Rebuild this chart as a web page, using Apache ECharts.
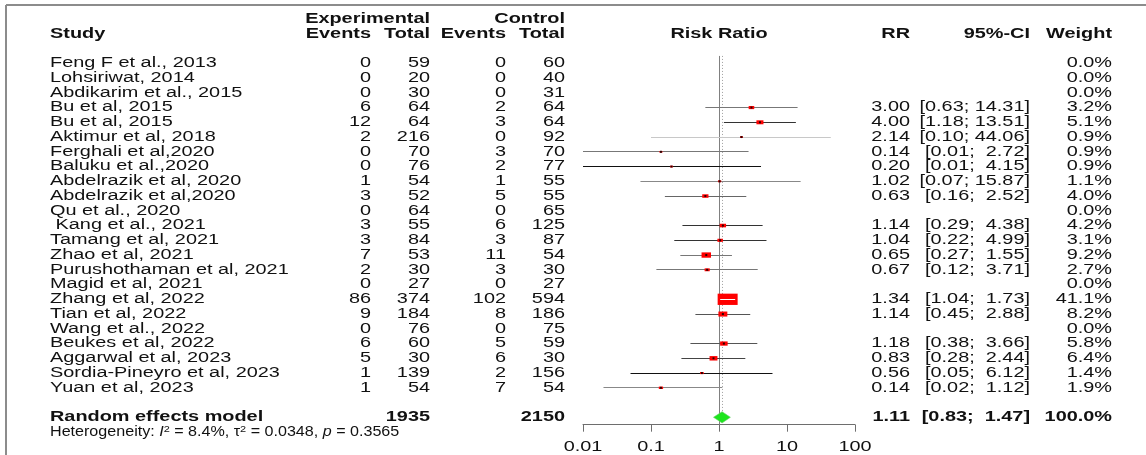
<!DOCTYPE html>
<html>
<head>
<meta charset="utf-8">
<script src="https://cdn.jsdelivr.net/npm/echarts@6/dist/echarts.min.js"></script>
<style>
  html, body { margin: 0; padding: 0; background: #fff; }
  #chart { width: 1146px; height: 455px; }
</style>
</head>
<body>
<div id="chart"></div>
<script>
// ---- Study data ----
const studies = [
  'Feng F et al., 2013', 'Lohsiriwat, 2014', 'Abdikarim et al., 2015', 'Bu et al, 2015',
  'Bu et al, 2015', 'Aktimur et al, 2018', 'Ferghali et al,2020', 'Baluku et al.,2020',
  'Abdelrazik et al, 2020', 'Abdelrazik et al,2020', 'Qu et al., 2020', ' Kang et al., 2021',
  'Tamang et al, 2021', 'Zhao et al, 2021', 'Purushothaman et al, 2021', 'Magid et al, 2021',
  'Zhang et al, 2022', 'Tian et al, 2022', 'Wang et al., 2022', 'Beukes et al, 2022',
  'Aggarwal et al, 2023', 'Sordia-Pineyro et al, 2023', 'Yuan et al, 2023'
];
const expEvents  = [0, 0, 0, 6, 12, 2, 0, 0, 1, 3, 0, 3, 3, 7, 2, 0, 86, 9, 0, 6, 5, 1, 1];
const expTotal   = [59, 20, 30, 64, 64, 216, 70, 76, 54, 52, 64, 55, 84, 53, 30, 27, 374, 184, 76, 60, 30, 139, 54];
const ctrlEvents = [0, 0, 0, 2, 3, 0, 3, 2, 1, 5, 0, 6, 3, 11, 3, 0, 102, 8, 0, 5, 6, 2, 7];
const ctrlTotal  = [60, 40, 31, 64, 64, 92, 70, 77, 55, 55, 65, 125, 87, 54, 30, 27, 594, 186, 75, 59, 30, 156, 54];
const riskRatio  = [null, null, null, 3.00, 4.00, 2.14, 0.14, 0.20, 1.02, 0.63, null, 1.14, 1.04, 0.65, 0.67, null, 1.34, 1.14, null, 1.18, 0.83, 0.56, 0.14];
const ciLower    = [null, null, null, 0.63, 1.18, 0.10, 0.01, 0.01, 0.07, 0.16, null, 0.29, 0.22, 0.27, 0.12, null, 1.04, 0.45, null, 0.38, 0.28, 0.05, 0.02];
const ciUpper    = [null, null, null, 14.31, 13.51, 44.06, 2.72, 4.15, 15.87, 2.52, null, 4.38, 4.99, 1.55, 3.71, null, 1.73, 2.88, null, 3.66, 2.44, 6.12, 1.12];
const weights    = [0.0, 0.0, 0.0, 3.2, 5.1, 0.9, 0.9, 0.9, 1.1, 4.0, 0.0, 4.2, 3.1, 9.2, 2.7, 0.0, 41.1, 8.2, 0.0, 5.8, 6.4, 1.4, 1.9];

// ---- Pooled estimate (random effects) ----
const pooledLabel = 'Random effects model';
const pooledTotals = [1935, 2150];
const pooledRR = 1.11;
const pooledCI = [0.83, 1.47];
const pooledWeight = 100.0;
const hetI2 = 8.4, hetTau2 = 0.0348, hetP = 0.3565;

// ---- Axis ----
const axisTicks = [0.01, 0.1, 1, 10, 100];
const axisTickLabels = ['0.01', '0.1', '1', '10', '100'];

// ---- Layout and styling ----
const FONT = '"Liberation Sans", Arial, Helvetica, sans-serif';
const FONT_SIZE = 14;
const HET_FONT_SIZE = 14;
const STRETCH = 1.42;            // horizontal text stretch of the table
const HET_STRETCH = 1.15;
const ROW = 14.75;               // row pitch in px
const FIRST_ROW_Y = 63.3;
const SUMMARY_ROW = 24;
const COL = { study: 50, expEv: 371, expTot: 430, ctlEv: 506, ctlTot: 565, rr: 910, ci: 1030, wt: 1112 };
const BOX_W = 20, BOX_H = 11.3;  // square size for the largest weight
const ciShade = ['#000', '#000', '#000', '#777', '#333', '#c8c8c8', '#777', '#111', '#888', '#666', '#000', '#333',
                 '#333', '#777', '#777', '#000', '#fff', '#555', '#000', '#555', '#444', '#111', '#888'];
const gridTop = FIRST_ROW_Y - 3.5 * ROW;
const gridHeight = 28 * ROW;

function cell(x, y, text, align, bold) {
  return {
    type: 'text', x: x, y: y, scaleX: STRETCH, silent: true,
    style: {
      text: text, align: align, verticalAlign: 'middle',
      fontSize: FONT_SIZE, fontFamily: FONT, fontWeight: bold ? 'bold' : 'normal', fill: '#111'
    }
  };
}
function fmtCI(lo, hi) {
  return '[' + lo.toFixed(2) + '; ' + hi.toFixed(2).padStart(5, ' ') + ']';
}
const crisp = v => Math.round(v) + 0.5;

// Table rows: study names, counts, estimates and weights
function renderStudyRow(params, api) {
  const i = params.dataIndex;
  const y = api.coord([1, api.value(1)])[1];
  const kids = [
    cell(COL.study, y, studies[i], 'left'),
    cell(COL.expEv, y, String(expEvents[i]), 'right'),
    cell(COL.expTot, y, String(expTotal[i]), 'right'),
    cell(COL.ctlEv, y, String(ctrlEvents[i]), 'right'),
    cell(COL.ctlTot, y, String(ctrlTotal[i]), 'right')
  ];
  if (riskRatio[i] != null) {
    kids.push(cell(COL.rr, y, riskRatio[i].toFixed(2), 'right'));
    kids.push(cell(COL.ci, y, fmtCI(ciLower[i], ciUpper[i]), 'right'));
  }
  kids.push(cell(COL.wt, y, weights[i].toFixed(1) + '%', 'right'));
  return { type: 'group', children: kids };
}

// Confidence interval, weighted square and centre point for each study
const maxWeight = Math.max.apply(null, weights);
function renderStudyCI(params, api) {
  const i = api.value(4);
  const c = api.coord([api.value(0), i]);
  const lo = api.coord([api.value(1), i]);
  const hi = api.coord([api.value(2), i]);
  const s = Math.sqrt(api.value(3) / maxWeight);
  const w = BOX_W * s, h = BOX_H * s;
  const yy = crisp(c[1] - 0.5);
  const inside = lo[0] >= c[0] - w / 2 && hi[0] <= c[0] + w / 2;
  const kids = [];
  if (!inside) {
    kids.push({ type: 'line', shape: { x1: lo[0], y1: yy, x2: hi[0], y2: yy },
      style: { stroke: ciShade[i], lineWidth: 1 } });
  }
  kids.push({ type: 'rect', shape: { x: c[0] - w / 2, y: c[1] - h / 2, width: w, height: h },
    style: { fill: '#ff0000' } });
  if (inside) {
    kids.push({ type: 'line', shape: { x1: lo[0], y1: yy, x2: hi[0], y2: yy },
      style: { stroke: '#ffffff', lineWidth: 1 } });
  } else {
    kids.push({ type: 'rect', shape: { x: c[0] - 1, y: c[1] - 1, width: 2, height: 2 },
      style: { fill: '#2a0000' } });
  }
  return { type: 'group', children: kids };
}

// Reference line at 1, dotted pooled line and the pooled diamond
function renderPooled(params, api) {
  const top = api.coord([1, -0.5])[1];
  const bottom = api.coord([1, 24.5])[1];
  const x1 = crisp(api.coord([1, 0])[0]);
  const c = api.coord([api.value(0), api.value(3)]);
  const lo = api.coord([api.value(1), api.value(3)]);
  const hi = api.coord([api.value(2), api.value(3)]);
  const half = 5.6;
  return {
    type: 'group',
    children: [
      { type: 'line', shape: { x1: x1, y1: top, x2: x1, y2: bottom }, style: { stroke: '#808080', lineWidth: 1 } },
      { type: 'line', shape: { x1: crisp(c[0]), y1: top, x2: crisp(c[0]), y2: c[1] - half },
        style: { stroke: '#a0a0a0', lineWidth: 1, lineDash: [1, 2] } },
      { type: 'polygon', shape: { points: [[lo[0], c[1]], [c[0], c[1] - half], [hi[0], c[1]], [c[0], c[1] + half]] },
        style: { fill: '#1de51d', stroke: '#66cc66', lineWidth: 0.6 } }
    ]
  };
}

// Column headers, pooled row text and heterogeneity line
function renderText(params, api) {
  const yHead1 = api.coord([1, -3])[1];
  const yHead2 = api.coord([1, -2])[1];
  const ySum = api.coord([1, SUMMARY_ROW])[1];
  const yHet = api.coord([1, SUMMARY_ROW + 1])[1];
  const xMid = api.coord([1, 0])[0];
  const f2 = v => v.toFixed(2);
  const base = { fontSize: HET_FONT_SIZE, fontFamily: FONT, fill: '#111', lineHeight: 16 };
  return {
    type: 'group',
    children: [
      cell(COL.expTot, yHead1, 'Experimental', 'right', true),
      cell(COL.ctlTot, yHead1, 'Control', 'right', true),
      cell(COL.study, yHead2, 'Study', 'left', true),
      cell(COL.expEv, yHead2, 'Events', 'right', true),
      cell(COL.expTot, yHead2, 'Total', 'right', true),
      cell(COL.ctlEv, yHead2, 'Events', 'right', true),
      cell(COL.ctlTot, yHead2, 'Total', 'right', true),
      cell(xMid, yHead2, 'Risk Ratio', 'center', true),
      cell(COL.rr, yHead2, 'RR', 'right', true),
      cell(COL.ci, yHead2, '95%-CI', 'right', true),
      cell(COL.wt, yHead2, 'Weight', 'right', true),
      cell(COL.study, ySum, pooledLabel, 'left', true),
      cell(COL.expTot, ySum, String(pooledTotals[0]), 'right', true),
      cell(COL.ctlTot, ySum, String(pooledTotals[1]), 'right', true),
      cell(COL.rr, ySum, f2(pooledRR), 'right', true),
      cell(COL.ci, ySum, fmtCI(pooledCI[0], pooledCI[1]), 'right', true),
      cell(COL.wt, ySum, pooledWeight.toFixed(1) + '%', 'right', true),
      {
        type: 'text', x: COL.study, y: yHet, scaleX: HET_STRETCH, silent: true,
        style: {
          text: '{n|Heterogeneity: }{i|I}{s|2}{n| = ' + hetI2.toFixed(1) + '%, \u03c4}{s|2}{n| = ' +
                hetTau2.toFixed(4) + ', }{i|p}{n| = ' + hetP.toFixed(4) + '}',
          align: 'left', verticalAlign: 'middle',
          fontSize: HET_FONT_SIZE, fontFamily: FONT, fill: '#111',
          rich: {
            n: base,
            i: Object.assign({}, base, { fontStyle: 'italic' }),
            s: { fontSize: 9.5, fontFamily: FONT, fill: '#111', lineHeight: 9.5, verticalAlign: 'top' }
          }
        }
      }
    ]
  };
}

// Axis tick labels
function renderTickLabel(params, api) {
  const p = api.coord([api.value(0), 24.5]);
  return cell(p[0], p[1] + 22, axisTickLabels[params.dataIndex], 'center');
}

const studyRows = studies.map((_, i) => [1, i]);
const ciRows = riskRatio.map((r, i) => r == null ? null : [r, ciLower[i], ciUpper[i], weights[i], i]).filter(Boolean);

const chart = echarts.init(document.getElementById('chart'), null, { renderer: 'canvas' });
chart.setOption({
  animation: false,
  backgroundColor: '#ffffff',
  grid: { left: 583, width: 272, top: gridTop, height: gridHeight },
  xAxis: {
    type: 'log', logBase: 10, min: 0.01, max: 100,
    axisLine: { onZero: false, lineStyle: { color: '#6e6e6e', width: 1 } },
    axisTick: { show: true, inside: false, length: 7, lineStyle: { color: '#6e6e6e' } },
    axisLabel: { show: false },
    splitLine: { show: false }
  },
  yAxis: { type: 'value', min: -3.5, max: 24.5, inverse: true, show: false, splitLine: { show: false } },
  graphic: [
    { type: 'line', shape: { x1: 6, y1: 5, x2: 1146, y2: 5 }, style: { stroke: '#8c8c8c', lineWidth: 2 }, silent: true },
    { type: 'line', shape: { x1: 6, y1: 5, x2: 6, y2: 455 }, style: { stroke: '#8c8c8c', lineWidth: 2 }, silent: true }
  ],
  series: [
    { type: 'custom', name: 'table', coordinateSystem: 'cartesian2d', clip: false, silent: true,
      data: studyRows, encode: { x: 0, y: 1 }, renderItem: renderStudyRow, z: 3 },
    { type: 'custom', name: 'pooled', coordinateSystem: 'cartesian2d', clip: false, silent: true,
      data: [[pooledRR, pooledCI[0], pooledCI[1], SUMMARY_ROW]], encode: { x: [0, 1, 2], y: 3 },
      renderItem: renderPooled, z: 1 },
    { type: 'custom', name: 'studies', coordinateSystem: 'cartesian2d', clip: false, silent: true,
      data: ciRows, encode: { x: [0, 1, 2], y: 4 }, renderItem: renderStudyCI, z: 2 },
    { type: 'custom', name: 'text', coordinateSystem: 'cartesian2d', clip: false, silent: true,
      data: [[1, 0]], encode: { x: 0, y: 1 }, renderItem: renderText, z: 3 },
    { type: 'custom', name: 'ticks', coordinateSystem: 'cartesian2d', clip: false, silent: true,
      data: axisTicks.map(v => [v, 24.5]), encode: { x: 0, y: 1 }, renderItem: renderTickLabel, z: 3 }
  ]
});
</script>
</body>
</html>
